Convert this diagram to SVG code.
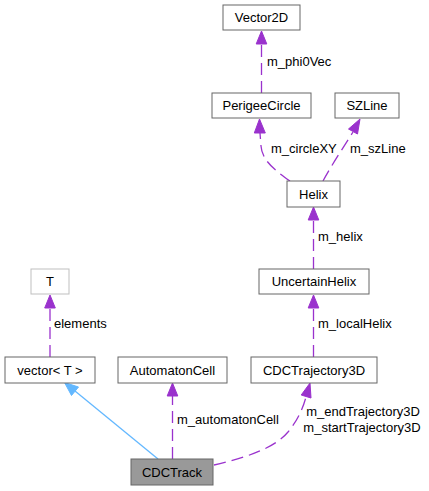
<svg xmlns="http://www.w3.org/2000/svg" width="429" height="491" viewBox="0 0 429 491">
<style>
.box{fill:#ffffff;stroke:#666666;stroke-width:1}
.grey{fill:#ffffff;stroke:#bfbfbf;stroke-width:1}
.main{fill:#999999;stroke:#666666;stroke-width:1}
text{font-family:"Liberation Sans",Arial,Helvetica,sans-serif;font-size:13px;fill:#000000}
.c{text-anchor:middle}
.use{fill:none;stroke:#9a32cd;stroke-width:1.3;stroke-dasharray:12,6}
.inh{fill:none;stroke:#63b8ff;stroke-width:1.3}
.ah{fill:#9a32cd;stroke:#9a32cd;stroke-width:1}
.ahb{fill:#63b8ff;stroke:#63b8ff;stroke-width:1}
</style>
<rect width="429" height="491" fill="#ffffff"/>
<g id="connectors">
  <path class="use" d="M261.5,93 L261.5,44"/>
  <polygon class="ah" points="261.5,31 256.2,44 266.8,44"/>
  <text x="267" y="65.5">m_phi0Vec</text>

  <path class="use" d="M290,181 C276,171 262,161 261,146 L260,133"/>
  <polygon class="ah" points="259.5,119 254.3,133 265.3,133"/>
  <text x="271" y="153">m_circleXY</text>

  <path class="use" d="M323,181 C331,166 343,148 353,132"/>
  <polygon class="ah" points="360,119 357.5,134 348.5,129"/>
  <text x="350" y="153">m_szLine</text>

  <path class="use" d="M313.5,269 L313.5,220"/>
  <polygon class="ah" points="313.5,207 308.2,220 318.8,220"/>
  <text x="318" y="241">m_helix</text>

  <path class="use" d="M50,357 L50,308"/>
  <polygon class="ah" points="50,295 44.7,308 55.3,308"/>
  <text x="54" y="328">elements</text>

  <path class="use" d="M313.5,357 L313.5,308"/>
  <polygon class="ah" points="313.5,295 308.2,308 318.8,308"/>
  <text x="318" y="328">m_localHelix</text>

  <path class="inh" d="M158,459 L75,391"/>
  <polygon class="ahb" points="64.5,382.5 78.5,387 71.5,395.5"/>

  <path class="use" d="M172.5,459 L172.5,396"/>
  <polygon class="ah" points="172.5,383 167.2,396 177.8,396"/>
  <text x="177" y="424">m_automatonCell</text>

  <path class="use" d="M214,465 C245,458 275,448 288,432 C298,420 303,408 306,397"/>
  <polygon class="ah" points="310,383 311,398 301.2,395"/>
  <text class="c" x="363" y="416">m_endTrajectory3D</text>
  <text class="c" x="362" y="431.5">m_startTrajectory3D</text>
</g>
<g id="node-Vector2D">
  <rect class="box" x="223" y="5" width="77" height="25"/>
  <text class="c" x="261.5" y="22">Vector2D</text>
</g>
<g id="node-PerigeeCircle">
  <rect class="box" x="212" y="93" width="99" height="25"/>
  <text class="c" x="261.5" y="110">PerigeeCircle</text>
</g>
<g id="node-SZLine">
  <rect class="box" x="335" y="93" width="64" height="25"/>
  <text class="c" x="367" y="110">SZLine</text>
</g>
<g id="node-Helix">
  <rect class="box" x="287" y="181" width="53" height="26"/>
  <text class="c" x="313.5" y="198.5">Helix</text>
</g>
<g id="node-T">
  <rect class="grey" x="31" y="269" width="38" height="25"/>
  <text class="c" x="50" y="286">T</text>
</g>
<g id="node-UncertainHelix">
  <rect class="box" x="259" y="269" width="110" height="25"/>
  <text class="c" x="314" y="286">UncertainHelix</text>
</g>
<g id="node-vector">
  <rect class="box" x="5" y="357" width="90" height="26"/>
  <text class="c" x="50" y="374.5">vector&lt; T &gt;</text>
</g>
<g id="node-AutomatonCell">
  <rect class="box" x="118" y="357" width="109" height="26"/>
  <text class="c" x="172.5" y="374.5">AutomatonCell</text>
</g>
<g id="node-CDCTrajectory3D">
  <rect class="box" x="251" y="357" width="126" height="26"/>
  <text class="c" x="314" y="374.5">CDCTrajectory3D</text>
</g>
<g id="node-CDCTrack">
  <rect class="main" x="131" y="459" width="82" height="26"/>
  <text class="c" x="172" y="476.5">CDCTrack</text>
</g>
</svg>
